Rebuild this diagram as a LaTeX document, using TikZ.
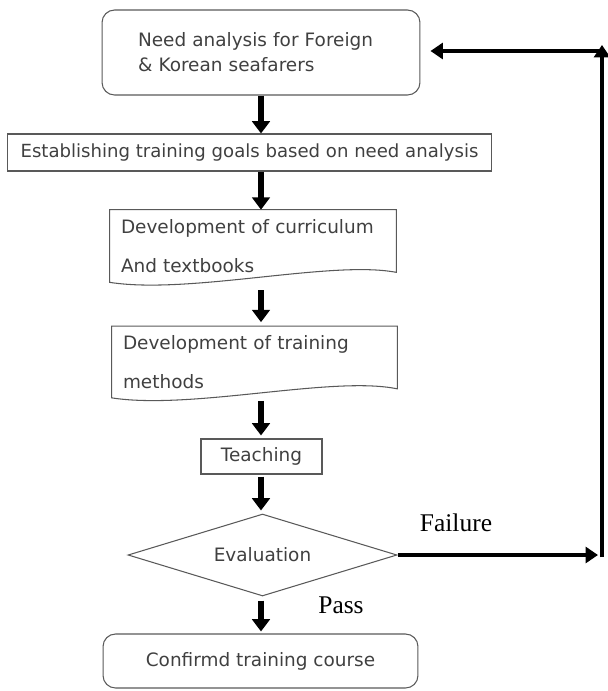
\documentclass[tikz,border=0pt]{standalone}
\usepackage{fontspec}
\setmainfont{Liberation Serif}
\setsansfont{DejaVu Sans}
\usetikzlibrary{shapes.geometric}
\usetikzlibrary{arrows.meta}
\usetikzlibrary{positioning}

\begin{document}
\begin{tikzpicture}[x=0.02cm,y=-0.02cm,
  box/.style={draw=black!65,line width=0.6pt,text=black!75,font=\sffamily\fontsize{10.5}{14.2}\selectfont},
  docbox/.style={text=black!75,font=\sffamily\fontsize{10.5}{22}\selectfont,align=left},
  docline/.style={draw=black!65,line width=0.6pt},
  flow/.style={line width=3pt,-{Triangle[width=10pt,length=7pt]}},
  loopline/.style={line width=2pt,-{Triangle[width=9pt,length=7pt]}},
  lbl/.style={font=\fontsize{14.5}{16}\selectfont}]
\useasboundingbox (0,0) rectangle (608,691);

\coordinate (spine) at (261,0);

\node[box,rounded corners=0.25cm,minimum height=1.7cm,text width=4.92cm,inner xsep=0.72cm,align=left] (need) at (261,52.5) {Need analysis for Foreign\\\& Korean seafarers};
\node[box,minimum width=9.7cm,minimum height=0.74cm,font=\sffamily\fontsize{10.3}{14}\selectfont] (goals) at (249.5,152.5) {Establishing training goals based on need analysis};
\node[docbox,minimum height=1.44cm,text width=5.28cm,inner xsep=0.22cm] (curr) at (253,246) {Development of curriculum\\ And textbooks};
\node[docbox,minimum height=1.42cm,text width=5.26cm,inner xsep=0.22cm] (meth) at (254.5,362) {Development of training\\ methods};
\node[box,minimum width=2.42cm,minimum height=0.7cm] (teach) at (261.5,456.5) {Teaching};
\node[box,diamond,aspect=3.28,minimum width=5.38cm,minimum height=1.64cm,inner sep=0pt] (eval) at (262.5,555) {Evaluation};
\node[box,rounded corners=0.25cm,minimum width=6.3cm,minimum height=1.08cm] (conf) at (260.5,661) {Confirmd training course};

% document shapes
\draw[docline] (curr.north west) -- (curr.north east) -- ([yshift=0.2cm]curr.south east)
  .. controls ([xshift=-1.3cm,yshift=0.45cm]curr.south east) and ([xshift=1.6cm,yshift=-0.25cm]curr.south west) .. (curr.south west) -- cycle;
\draw[docline] (meth.north west) -- (meth.north east) -- ([yshift=0.18cm]meth.south east)
  .. controls ([xshift=-1.3cm,yshift=0.45cm]meth.south east) and ([xshift=1.6cm,yshift=-0.25cm]meth.south west) .. (meth.south west) -- cycle;

% main flow
\draw[flow] (need.south -| spine) -- (goals.north -| spine);
\draw[flow] (goals.south -| spine) -- (curr.north -| spine);
\draw[flow,shorten <=0.16cm,shorten >=0.08cm] (curr.south -| spine) -- (meth.north -| spine);
\draw[flow,shorten <=0.06cm,shorten >=0.06cm] (meth.south -| spine) -- (teach.north -| spine);
\draw[flow,shorten <=0.04cm,shorten >=0.06cm] (teach.south -| spine) -- (eval.north -| spine);
\draw[flow,shorten <=0.08cm,shorten >=0.04cm] (eval.south -| spine) -- (conf.north -| spine);

% failure loop
\coordinate (fr) at (598,555);
\coordinate (fb) at (602,557);
\coordinate (ft) at (602,45);
\coordinate (fc) at (600,51);
\draw[loopline] (eval.east) -- (fr);
\draw[loopline] (fb) -- (ft);
\draw[loopline,shorten >=0.2cm] (fc) -- (need.east |- fc);

\node[lbl] (fail) at (456,523) {Failure};
\node[lbl] (pass) at (341,605) {Pass};

\end{tikzpicture}
\end{document}
